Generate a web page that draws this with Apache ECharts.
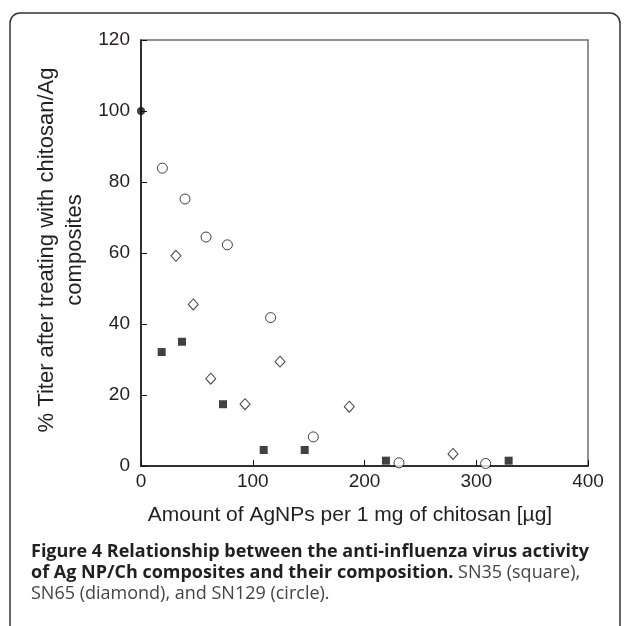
<!DOCTYPE html>
<html><head><meta charset="utf-8">
<script src="https://cdn.jsdelivr.net/npm/echarts@6/dist/echarts.min.js"></script>
<style>html,body{margin:0;padding:0;background:#fff}#c{width:629px;height:626px}</style>
</head><body><div id="c"></div>
<script>
// Data (x: µg AgNPs per 1 mg chitosan, y: % titer)
const control = [[0, 100]];
const sn35Square = [[18.5, 32.1], [36.7, 35.0], [73.4, 17.4], [109.8, 4.5], [146.5, 4.5], [219.2, 1.5], [329, 1.5]];
const sn65Diamond = [[31.3, 59.2], [46.8, 45.5], [62.4, 24.6], [93.1, 17.4], [124.4, 29.4], [186.4, 16.7], [279.2, 3.4]];
const sn129Circle = [[19.1, 83.9], [39.4, 75.2], [58.2, 64.5], [77.3, 62.3], [116, 41.8], [154.2, 8.2], [230.9, 0.9], [308.4, 0.7]];
const xTicks = [0, 100, 200, 300, 400];
const yTicks = [0, 20, 40, 60, 80, 100, 120];

const FONT = "'Liberation Sans', Arial, sans-serif";
const CAP = "'Open Sans', sans-serif";
const TXT = '#231f20';
const chart = echarts.init(document.getElementById('c'), null, {renderer: 'canvas'});
chart.setOption({
  animation: false,
  grid: {left: 141, top: 40, right: 41, bottom: 160, show: true, borderColor: '#6d6d6d', borderWidth: 1.5, backgroundColor: 'transparent'},
  xAxis: {
    type: 'value', min: xTicks[0], max: xTicks[xTicks.length - 1], interval: 100,
    axisLine: {show: true, onZero: false, lineStyle: {color: '#111', width: 1.5}},
    axisTick: {show: true, inside: true, length: 6, lineStyle: {color: '#111', width: 1}},
    axisLabel: {color: TXT, fontSize: 19, fontFamily: FONT, margin: 6},
    splitLine: {show: false}
  },
  yAxis: {
    type: 'value', min: yTicks[0], max: yTicks[yTicks.length - 1], interval: 20,
    axisLine: {show: true, onZero: false, lineStyle: {color: '#111', width: 1.5}},
    axisTick: {show: true, inside: true, length: 6, lineStyle: {color: '#111', width: 1}},
    axisLabel: {color: TXT, fontSize: 19, fontFamily: FONT, margin: 11},
    splitLine: {show: false}
  },
  series: [
    {name: 'SN35', type: 'scatter', data: sn35Square, symbol: 'rect', symbolSize: 8, itemStyle: {color: '#111'}},
    {name: 'SN65', type: 'scatter', data: sn65Diamond, symbol: 'diamond', symbolSize: [10, 11], itemStyle: {color: '#fff', borderColor: '#111', borderWidth: 1}},
    {name: 'SN129', type: 'scatter', data: sn129Circle, symbol: 'circle', symbolSize: 10, itemStyle: {color: '#fff', borderColor: '#111', borderWidth: 1}},
    {name: 'control', type: 'scatter', data: control, symbol: 'circle', symbolSize: 8, itemStyle: {color: '#111'}, z: 5}
  ],
  graphic: [
    {type: 'rect', shape: {x: 10, y: 13, width: 610, height: 650, r: 10}, style: {fill: 'none', stroke: '#333', lineWidth: 1.5}, z: -1},
    {type: 'text', x: 47, y: 250, rotation: Math.PI / 2, style: {text: '% Titer after treating with chitosan/Ag', fontSize: 22, fontFamily: FONT, fill: TXT, textAlign: 'center', textVerticalAlign: 'middle'}},
    {type: 'text', x: 75, y: 250, rotation: Math.PI / 2, style: {text: 'composites', fontSize: 22, fontFamily: FONT, fill: TXT, textAlign: 'center', textVerticalAlign: 'middle'}},
    {type: 'text', x: 350, y: 515, style: {text: 'Amount of AgNPs per 1 mg of chitosan [µg]', fontSize: 21, fontFamily: FONT, fill: TXT, textAlign: 'center', textVerticalAlign: 'middle'}},
    {type: 'text', x: 31, y: 541, style: {
      text: '{b|Figure 4 Relationship between the anti-influenza virus activity}\n{b|of Ag NP/Ch composites and their composition.}{n| SN35 (square),}\n{n|SN65 (diamond), and SN129 (circle).}',
      textAlign: 'left', textVerticalAlign: 'top',
      rich: {
        b: {fontFamily: CAP, fontWeight: 'bold', fontSize: 18, fill: TXT, lineHeight: 21},
        n: {fontFamily: CAP, fontSize: 18, fill: '#444', lineHeight: 21}
      }
    }}
  ]
});
</script></body></html>
